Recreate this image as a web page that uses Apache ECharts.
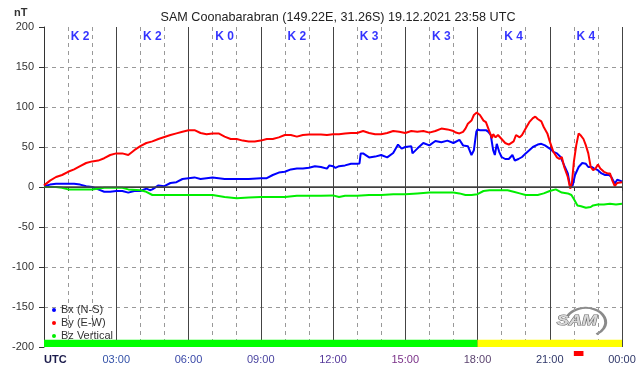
<!DOCTYPE html>
<html>
<head>
<meta charset="utf-8">
<script src="https://cdn.jsdelivr.net/npm/echarts@6/dist/echarts.min.js"></script>
<style>
  html, body { margin: 0; padding: 0; background: #fff; }
  #chart { width: 642px; height: 376px; }
</style>
</head>
<body>
<div id="chart"></div>
<script>
// Bx (N-S), blue
const bxHours = [0, 0.25, 0.5, 0.75, 1, 1.25, 1.5, 1.75, 2, 2.25, 2.5, 2.75, 3, 3.25, 3.5, 3.75, 4, 4.25, 4.4, 4.5, 4.75, 5, 5.25, 5.5, 5.75,
  6, 6.25, 6.5, 6.75, 7, 7.25, 7.5, 8, 8.5, 9, 9.25, 9.5, 9.75, 10, 10.25, 10.5, 10.75, 11, 11.25, 11.5, 11.75, 11.85,
  12, 12.1, 12.25, 12.5, 12.75, 13, 13.1, 13.15, 13.25, 13.5, 13.75, 14, 14.25, 14.5, 14.7, 14.85, 15, 15.25, 15.3, 15.5, 15.75,
  16, 16.25, 16.5, 16.75, 17, 17.25, 17.4, 17.6, 17.75, 17.85, 17.95, 18, 18.1, 18.25, 18.35, 18.45, 18.55, 18.65, 18.72, 18.8, 18.9,
  19, 19.15, 19.3, 19.45, 19.55, 19.7, 19.85, 20, 20.15, 20.3, 20.5, 20.65, 20.8, 21, 21.15, 21.3, 21.45, 21.6, 21.75, 21.85, 21.95,
  22.05, 22.2, 22.35, 22.5, 22.6, 22.75, 22.85, 23, 23.15, 23.3, 23.45, 23.55, 23.7, 23.8, 24];
const bxValues = [1, 3, 4, 4, 4, 4, 3, 1, 0, -3, -6, -6, -5, -5, -7, -5, -5, -2, -4, -3, 2, 1, 5, 6, 10,
  11, 12, 10, 11, 12, 11, 10, 10, 10, 11, 11, 15, 18, 19, 22, 23, 23, 24, 26, 25, 23, 27,
  26, 24, 26, 27, 29, 29, 29.5, 42, 42, 37, 38, 40, 37, 42.5, 53, 48, 50, 51, 42, 48, 55,
  52, 57.5, 56, 58, 55, 59, 52, 51, 40, 46, 69, 72, 71, 71, 71, 69, 65, 46, 40, 54, 44,
  37.5, 35, 35, 40, 33, 35, 37.5, 42, 46, 50, 53, 54, 52, 48, 44, 42, 37.5, 27, 17, 0, 2,
  15, 25, 30, 29, 25, 25, 23, 21, 17, 15, 15, 13, 4, 9, 7];

// By (E-W), red
const byHours = [0, 0.25, 0.5, 0.75, 1, 1.25, 1.5, 1.75, 2, 2.25, 2.5, 2.75, 3, 3.25, 3.5, 3.75, 4, 4.25, 4.5, 4.75, 5, 5.25, 5.5, 5.75,
  6, 6.25, 6.5, 6.75, 7, 7.25, 7.5, 7.75, 8, 8.25, 8.5, 8.75, 9, 9.25, 9.5, 9.75, 10, 10.25, 10.5, 10.75, 11, 11.25, 11.5, 11.75,
  12, 12.25, 12.5, 12.75, 13, 13.25, 13.5, 13.75, 14, 14.25, 14.5, 14.75, 15, 15.25, 15.5, 15.75, 16, 16.25, 16.5, 16.75,
  17, 17.1, 17.25, 17.4, 17.5, 17.6, 17.75, 17.85, 17.97, 18.1, 18.25, 18.35, 18.5, 18.6, 18.65, 18.75, 18.85,
  19, 19.15, 19.3, 19.5, 19.6, 19.75, 19.85, 20, 20.15, 20.3, 20.4, 20.5, 20.65, 20.75, 20.9, 21, 21.15, 21.3, 21.4, 21.5,
  21.6, 21.75, 21.85, 21.92, 22, 22.1, 22.2, 22.3, 22.4, 22.5, 22.6, 22.7, 22.8, 22.9, 23, 23.1, 23.25, 23.4, 23.5, 23.6, 23.7, 23.8, 24];
const byValues = [2, 8, 12.5, 15, 19, 22, 26, 30, 32, 33, 36, 40, 42, 42, 40, 46, 51, 55, 57, 60, 62.5, 65, 67, 69,
  71, 71, 67.5, 66, 67, 67, 63, 60, 60, 58, 57, 57, 58, 60, 60, 62, 65, 65, 63, 65, 65.5, 65.5, 65.5, 65,
  66, 66, 67, 67.5, 67.5, 70, 67.5, 66, 66, 67.5, 70, 69, 67.5, 70, 69, 70, 68, 70, 73, 72,
  70, 68, 67, 69, 73, 79, 83, 90, 93, 90, 83, 81, 69, 61, 66, 62, 65,
  60, 55, 53, 57, 65, 62, 65, 73, 81, 86, 88, 85, 82, 75, 67, 57, 44, 37, 35, 37.5,
  25, 12.5, -2, 5, 31, 52, 67, 64, 60, 52, 42, 25, 21, 23, 28, 23, 19, 17, 17, 8, 1, 5, 6];

// Bz Vertical, green
const bzHours = [0, 0.5, 0.75, 1, 1.5, 2, 2.5, 3, 3.25, 3.5, 4, 4.25, 4.5, 5, 5.5, 6, 6.5, 7, 7.5, 8, 8.5, 9, 9.5, 10, 10.5, 11, 11.5,
  12, 12.25, 12.5, 13, 13.5, 14, 14.5, 15, 15.5, 16, 16.5, 17, 17.25, 17.5, 17.75, 18, 18.25, 18.5, 19, 19.25, 19.5, 19.75,
  20, 20.5, 20.75, 21, 21.25, 21.5, 21.75, 21.9, 22, 22.15, 22.3, 22.5, 22.7, 22.8, 23, 23.25, 23.5, 23.75, 24];
const bzValues = [0, 0, -1, -3, -3, -3, -1, -1, -1, -3, -4, -6, -10, -10, -10, -10, -10, -10, -12.5, -14, -13, -12.5, -12.5, -12.5, -11, -11, -11,
  -10.5, -12.5, -11, -11, -10, -10, -9, -9, -8, -7, -7, -7, -8, -10, -10, -9, -5, -4, -4, -4, -6, -8,
  -10, -10, -8, -5, -3, -7, -8, -10, -15, -23, -24, -26, -25, -23, -22, -22, -21, -22, -21];

// K index per 3-hour block
const kHours = [1.5, 4.5, 7.5, 10.5, 13.5, 16.5, 19.5, 22.5];
const kValues = [2, 2, 0, 2, 3, 3, 4, 4];
const kLevel = 187.5;

// status bar along the bottom
const bandStarts = [0, 18];
const bandEnds = [18, 24];
const bandColors = ['#00ff00', '#ffff00'];
const bandTop = -191;

// red event marker under the axis
const eventStart = 22.0;
const eventEnd = 22.4;

const yMin = -200, yMax = 200, yStep = 50;
const xLabelColors = ['#1c1c4c', '#3452a8', '#3a48a8', '#4a44a0', '#55389a', '#7a3088', '#5c4470', '#30386a', '#30386a'];

const pair = (hs, vs) => hs.map((h, i) => [h, vs[i]]);
const hourLabel = (h) => {
  if (h === 0) return '{utc|UTC}';
  if (h === 24) return '00:00';
  return (h < 10 ? '0' + h : '' + h) + ':00';
};

const chart = echarts.init(document.getElementById('chart'));
const font = 'Liberation Sans, Arial, sans-serif';

const option = {
  backgroundColor: '#fff',
  animation: false,
  title: {
    text: 'SAM Coonabarabran (149.22E, 31.26S) 19.12.2021 23:58 UTC',
    left: 333,
    textAlign: 'center',
    top: 6,
    textStyle: { fontFamily: font, fontSize: 12.6, fontWeight: 'normal', color: '#222' }
  },
  graphic: [
    {
      type: 'text', left: 14, top: 7,
      style: { text: 'nT', font: 'bold 11px ' + font, fill: '#333' }
    },
    {
      type: 'group', left: 556, top: 306,
      children: [
        { type: 'arc', shape: { cx: 30, cy: 20, r: 20, startAngle: -2.7, endAngle: 1.0 }, scaleY: 0.72, originY: 20,
          style: { stroke: '#8a8a8a', lineWidth: 3, fill: null } },
        { type: 'text', x: 1, y: 12, scaleX: 1.3, style: { text: 'SAM', font: 'italic bold 14px ' + font, fill: '#d8d8d8', stroke: '#6a6a6a', lineWidth: 1 } }
      ]
    }
  ],
  legend: {
    orient: 'vertical',
    left: 47,
    top: 299,
    icon: 'circle',
    itemWidth: 4,
    itemHeight: 4,
    itemGap: 1,
    textStyle: { fontFamily: font, fontSize: 11, color: '#333', lineHeight: 12 },
    data: ['Bx (N-S)', 'By (E-W)', 'Bz Vertical']
  },
  grid: { left: 44, right: 20, top: 27, bottom: 29 },
  xAxis: [
    {
      type: 'value', min: 0, max: 24, interval: 1,
      axisLine: { lineStyle: { color: '#333', width: 1 } },
      axisTick: { length: 4, lineStyle: { color: '#333' } },
      axisLabel: {
        margin: 7,
        fontFamily: font, fontSize: 11,
        alignMinLabel: 'left',
        formatter: (v) => (v % 3 === 0 ? hourLabel(v) : ''),
        color: (v) => xLabelColors[Math.round(v / 3)] || '#333',
        rich: { utc: { fontFamily: font, fontSize: 11, fontWeight: 'bold', color: '#1c1c4c' } }
      },
      splitLine: { show: true, lineStyle: { color: '#999', type: [4, 4] } }
    },
    {
      type: 'value', min: 0, max: 24, interval: 3, position: 'top',
      axisLine: { show: false }, axisTick: { show: false }, axisLabel: { show: false },
      splitLine: { show: true, lineStyle: { color: '#444', width: 1 } }
    }
  ],
  yAxis: {
    type: 'value', min: yMin, max: yMax, interval: yStep,
    axisLine: { show: true, lineStyle: { color: '#333' } },
    axisTick: { show: true, length: 5, lineStyle: { color: '#333' } },
    axisLabel: { margin: 10, fontFamily: font, fontSize: 11, color: '#333' },
    splitLine: { show: true, showMaxLine: false, showMinLine: false, lineStyle: { color: '#999', type: [4, 4] } }
  },
  series: [
    {
      name: 'bands', type: 'line', data: [], z: -1, silent: true,
      markArea: {
        silent: true,
        data: bandStarts.map((s, i) => [
          { xAxis: s, yAxis: yMin, itemStyle: { color: bandColors[i], opacity: 1 } },
          { xAxis: bandEnds[i], yAxis: bandTop }
        ])
      },
      markLine: {
        silent: true, symbol: 'none', label: { show: false },
        lineStyle: { color: '#444', type: 'solid', width: 1.5 },
        data: [{ yAxis: 0 }]
      }
    },
    {
      name: 'Bx (N-S)', type: 'line', data: pair(bxHours, bxValues),
      showSymbol: false, color: '#0000ff', lineStyle: { width: 2 }
    },
    {
      name: 'Bz Vertical', type: 'line', data: pair(bzHours, bzValues),
      showSymbol: false, color: '#00ee00', lineStyle: { width: 2 }
    },
    {
      name: 'By (E-W)', type: 'line', data: pair(byHours, byValues),
      showSymbol: false, color: '#ff0000', lineStyle: { width: 2 }
    },
    {
      name: 'K', type: 'scatter', symbolSize: 0, silent: true,
      data: kHours.map((h, i) => [h, kLevel, kValues[i]]),
      label: {
        show: true, position: 'inside',
        formatter: (p) => 'K ' + p.value[2],
        fontFamily: font, fontSize: 12, fontWeight: 'bold', color: '#0000ff'
      }
    },
    {
      name: 'event', type: 'custom', clip: false, silent: true,
      data: [[eventStart, eventEnd]],
      encode: { x: [0, 1] },
      renderItem: (params, api) => {
        const p0 = api.coord([api.value(0), yMin]);
        const p1 = api.coord([api.value(1), yMin]);
        return {
          type: 'rect',
          shape: { x: p0[0], y: p0[1] + 4, width: p1[0] - p0[0], height: 5 },
          style: { fill: '#ff0000' }
        };
      }
    }
  ]
};

chart.setOption(option);
</script>
</body>
</html>
